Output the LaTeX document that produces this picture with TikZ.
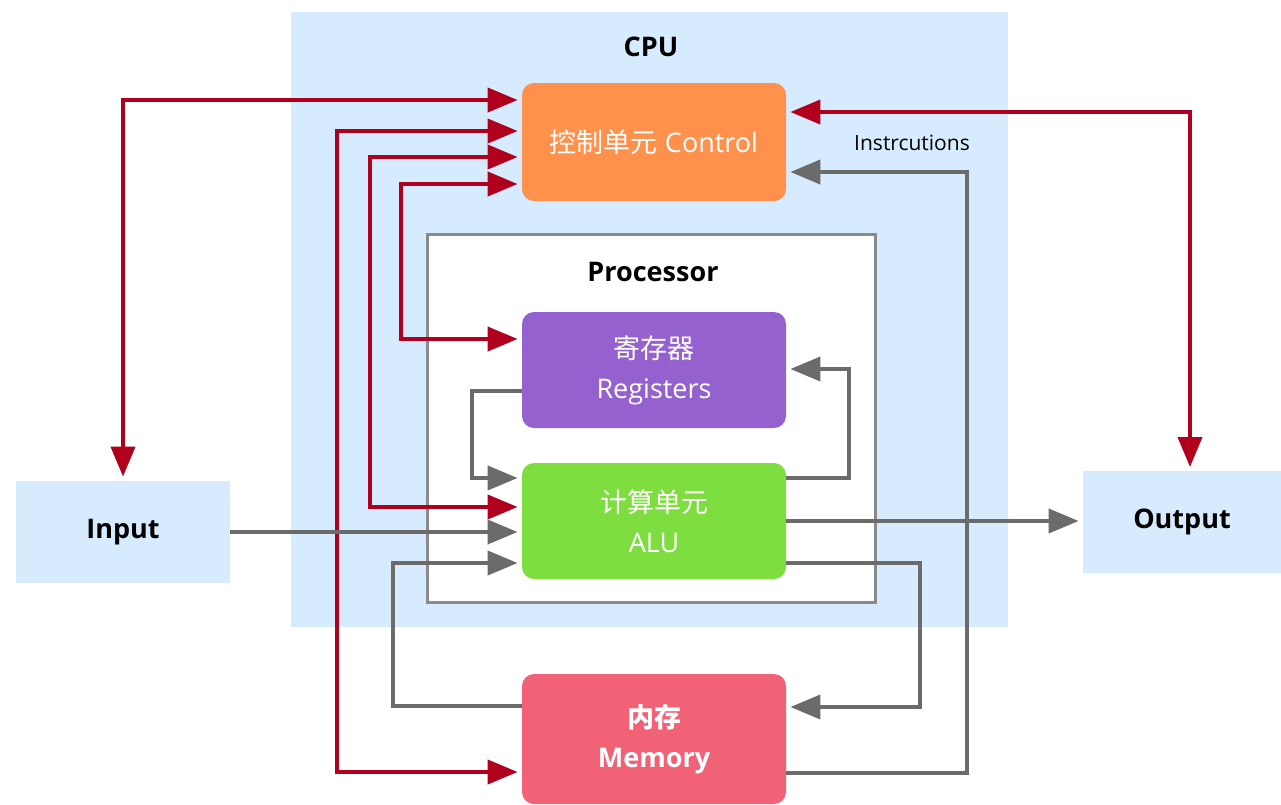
\documentclass[tikz,border=0pt]{standalone}
\usepackage{fontspec}
\setmainfont{Open Sans}
\newfontfamily\cjk{Noto Sans CJK SC}
\usetikzlibrary{arrows.meta,calc}
\definecolor{cpubg}{HTML}{D6EBFD}
\definecolor{ctrlc}{HTML}{FF914D}
\definecolor{regc}{HTML}{9461CF}
\definecolor{aluc}{HTML}{7EDD3F}
\definecolor{memc}{HTML}{F16277}
\definecolor{redc}{HTML}{B0001E}
\definecolor{grayc}{HTML}{6B6B6B}
\definecolor{procc}{HTML}{8A8A8A}
\tikzset{
  unitbox/.style={rounded corners=6pt, minimum width=132pt, minimum height=58pt, text=white, align=center, inner sep=0pt, font=\fontsize{13.5pt}{20pt}\selectfont},
  iobox/.style={fill=cpubg, minimum height=51pt, inner sep=0pt, font=\bfseries\fontsize{13.5pt}{16pt}\selectfont},
  redarr/.style={draw=redc, line width=2pt, {Triangle[length=15pt,width=12pt]}-{Triangle[length=15pt,width=12pt]}, shorten <=2pt, shorten >=2pt},
  grayarr/.style={draw=grayc, line width=2pt, -{Triangle[length=15pt,width=12pt]}, shorten >=2pt},
  title/.style={font=\bfseries\fontsize{13.5pt}{16pt}\selectfont, inner sep=0pt}
}
\begin{document}
\begin{tikzpicture}[x=0.5pt,y=-0.5pt]
\useasboundingbox (0,0) rectangle (1281,804);
% containers
\node[fill=cpubg, minimum width=358.5pt, minimum height=307.5pt, inner sep=0pt] (cpu) at (649.5,319.5) {};
\node[title] (cpulbl) at (651,47) {CPU};
\node[fill=white, draw=procc, line width=1.5pt, minimum width=224pt, minimum height=184pt, inner sep=0pt] (proc) at (651,418) {};
\node[title] (proclbl) at (653,272) {Processor};
% units
\node[unitbox, fill=ctrlc, minimum height=59pt] (ctrl) at (654,142) {{\cjk 控制单元} Control};
\node[unitbox, fill=regc] (reg) at (654,370) {{\cjk 寄存器}\\Registers};
\node[unitbox, fill=aluc] (alu) at (654,521) {{\cjk 计算单元}\\ALU};
\node[unitbox, fill=memc, minimum height=65pt, font=\bfseries\fontsize{13.5pt}{20pt}\selectfont] (mem) at (654,739) {{\cjk 内存}\\Memory};
\node[iobox, minimum width=107pt] (input) at (123,532) {Input};
\node[iobox, minimum width=99pt] (output) at (1182,522) {Output};
% red connectors
\draw[redarr] (input.north) |- (ctrl.west |- 0,100);
\draw[redarr] (ctrl.west |- 0,131) -| (337,772) -- (mem.west |- 0,772);
\draw[redarr] (ctrl.west |- 0,157) -| (370,507) -- (alu.west |- 0,507);
\draw[redarr] (ctrl.west |- 0,184) -| (401,339) -- (reg.west |- 0,339);
\draw[redarr] (ctrl.east |- 0,112) -| (1190,471);
% gray connectors
\draw[grayarr] (input.east |- 0,532) -- (alu.west |- 0,532);
\draw[grayarr] (reg.west |- 0,391) -| (472,478) -- (alu.west |- 0,478);
\draw[grayarr] (alu.east |- 0,478) -| (849,369) -- (reg.east |- 0,369);
\draw[grayarr] (alu.east |- 0,521) -- (output.west |- 0,521);
\draw[grayarr] (mem.west |- 0,706) -| (393,563) -- (alu.west |- 0,563);
\draw[grayarr] (alu.east |- 0,563) -| (920,707) -- (mem.east |- 0,707);
\draw[grayarr] (mem.east |- 0,773) -| (967,172) -- (ctrl.east |- 0,172);
\node[font=\fontsize{10.5pt}{12pt}\selectfont, inner sep=0pt] (instr) at (912,143) {Instrcutions};
\end{tikzpicture}
\end{document}
